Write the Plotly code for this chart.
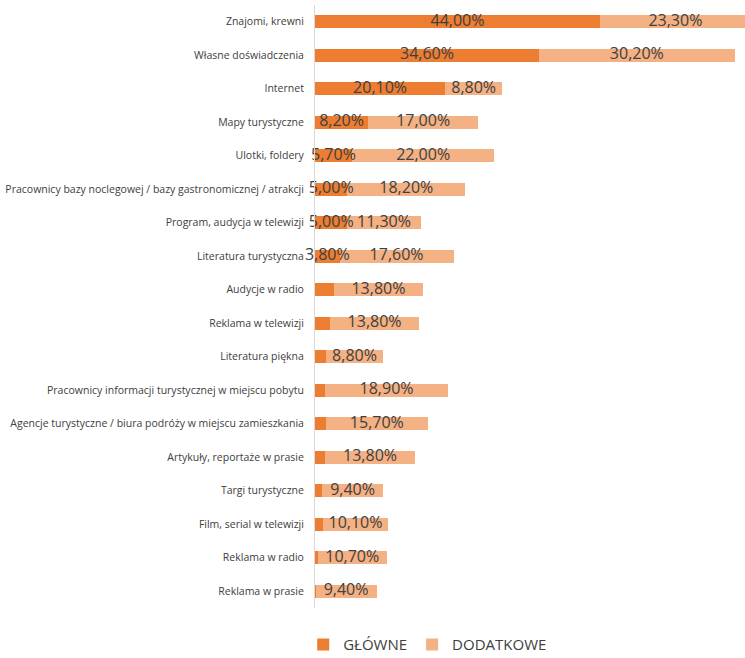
import plotly.graph_objects as go

categories = [
    "Znajomi, krewni",
    "Własne doświadczenia",
    "Internet",
    "Mapy turystyczne",
    "Ulotki, foldery",
    "Pracownicy bazy noclegowej / bazy gastronomicznej / atrakcji",
    "Program, audycja w telewizji",
    "Literatura turystyczna",
    "Audycje w radio",
    "Reklama w telewizji",
    "Literatura piękna",
    "Pracownicy informacji turystycznej w miejscu pobytu",
    "Agencje turystyczne / biura podróży w miejscu zamieszkania",
    "Artykuły, reportaże w prasie",
    "Targi turystyczne",
    "Film, serial w telewizji",
    "Reklama w radio",
    "Reklama w prasie",
]
glowne = [44.0, 34.6, 20.1, 8.2, 5.7, 5.0, 5.0, 3.8, 2.9, 2.3, 1.7, 1.6, 1.7, 1.6, 1.1, 1.2, 0.4, 0.1]
dodatkowe = [23.3, 30.2, 8.8, 17.0, 22.0, 18.2, 11.3, 17.6, 13.8, 13.8, 8.8, 18.9, 15.7, 13.8, 9.4, 10.1, 10.7, 9.4]

C_MAIN = "#ED7D31"
C_EXTRA = "#F4B183"
TXT = "#404040"
LABEL_MIN = 3.5  # main-share labels shown only for the larger segments


def pct(v):
    return f"{v:.2f}".replace(".", ",") + "%"


fig = go.Figure()
fig.add_trace(go.Bar(y=categories, x=glowne, orientation="h", name="GŁÓWNE",
                     marker=dict(color=C_MAIN, line=dict(width=0))))
fig.add_trace(go.Bar(y=categories, x=dodatkowe, orientation="h", name="DODATKOWE",
                     marker=dict(color=C_EXTRA, line=dict(width=0))))

# value labels centred on each segment
lab_x, lab_y, lab_t = [], [], []
for c, m, e in zip(categories, glowne, dodatkowe):
    if m >= LABEL_MIN:
        lab_x.append(m / 2)
        lab_y.append(c)
        lab_t.append(pct(m))
    lab_x.append(m + e / 2)
    lab_y.append(c)
    lab_t.append(pct(e))

fig.add_trace(go.Scatter(x=lab_x, y=lab_y, mode="text", text=lab_t,
                         textposition="middle center", cliponaxis=False,
                         textfont=dict(family="Open Sans", size=16, color=TXT),
                         showlegend=False, hoverinfo="skip"))

n = len(categories)
fig.update_layout(
    width=745, height=658,
    margin=dict(l=315, r=0, t=5, b=50),
    barmode="stack", bargap=0.6,
    plot_bgcolor="white", paper_bgcolor="white",
    font=dict(family="Open Sans", color=TXT),
    legend=dict(orientation="h", xref="container", yref="container",
                x=0.407, xanchor="left", y=0.02, yanchor="middle",
                font=dict(size=15, color=TXT), itemwidth=30,
                traceorder="normal"),
)
fig.update_xaxes(range=[0, 66.4], visible=False)
fig.update_yaxes(range=[n - 0.5, -0.5], showline=True, linecolor="#d9d9d9",
                 linewidth=1, ticks="", showgrid=False, ticklabelstandoff=8,
                 automargin=False,
                 tickfont=dict(family="Open Sans", size=10.5, color=TXT))

fig.write_html("out.html")
